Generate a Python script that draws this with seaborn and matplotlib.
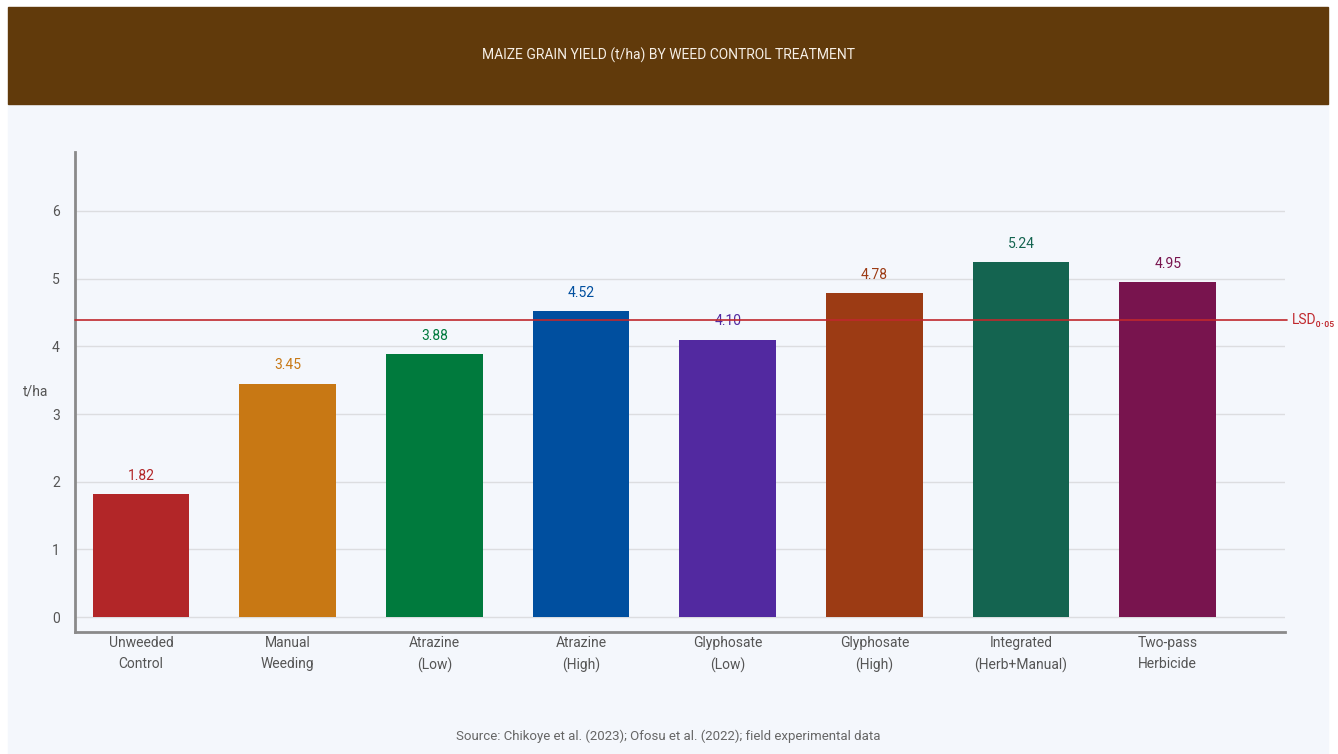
import matplotlib
matplotlib.use("Agg")
import matplotlib.pyplot as plt
import seaborn as sns
import pandas as pd

categories = ["Unweeded\nControl", "Manual\nWeeding", "Atrazine\n(Low)", "Atrazine\n(High)",
              "Glyphosate\n(Low)", "Glyphosate\n(High)", "Integrated\n(Herb+Manual)", "Two-pass\nHerbicide"]
yields = [1.82, 3.45, 3.88, 4.52, 4.10, 4.78, 5.24, 4.95]
value_labels = ["1.82", "3.45", "3.88", "4.52", "4.10", "4.78", "5.24", "4.95"]
colors = ["#B22628", "#C87814", "#007A3D", "#004F9F", "#5229A0", "#9C3B14", "#146450", "#78144E"]
lsd_value = 4.39
lsd_label = "LSD₀.₀₅"
y_ticks = [0, 1, 2, 3, 4, 5, 6]
title = "MAIZE GRAIN YIELD (t/ha) BY WEED CONTROL TREATMENT"
source = "Source: Chikoye et al. (2023); Ofosu et al. (2022); field experimental data"

sns.set_theme(style="white")
plt.rcParams['font.family'] = ['Roboto', 'DejaVu Sans']

W, H = 1338, 754
fig = plt.figure(figsize=(W / 100, H / 100), dpi=100)
fig.patch.set_facecolor("white")

# panel background
fig.add_artist(plt.Rectangle((8 / W, 0), (1328 - 8) / W, (754 - 104) / H,
                             transform=fig.transFigure, color="#F4F7FC", zorder=-2))
# header band
fig.add_artist(plt.Rectangle((8 / W, (754 - 104) / H), (1328 - 8) / W, (104 - 7) / H,
                             transform=fig.transFigure, color="#613A0B", zorder=-1))
fig.text(668 / W, 1 - 55 / H, title, color="#F6EFE6", fontsize=10, ha="center", va="center")

ax_left, ax_right = 75, 1285
ax_top, ax_bottom = 152, 632
ax = fig.add_axes([ax_left / W, 1 - ax_bottom / H, (ax_right - ax_left) / W, (ax_bottom - ax_top) / H])
ax.set_facecolor("none")

df = pd.DataFrame({"cat": categories, "y": yields})
sns.barplot(data=df, x="cat", y="y", hue="cat", palette=colors, legend=False,
            width=0.66, ax=ax, saturation=1, zorder=3, linewidth=0, edgecolor="none")

ax.set_xlim(-0.45, 7.80)
ax.set_ylim(-0.22, 6.87)
ax.set_yticks(y_ticks)
ax.yaxis.grid(True, color="#DCDDE0", linewidth=1, zorder=0)
ax.set_axisbelow(True)
for s in ["top", "right"]:
    ax.spines[s].set_visible(False)
for s in ["left", "bottom"]:
    ax.spines[s].set_color("#8A8A8A")
    ax.spines[s].set_linewidth(2)
ax.tick_params(axis="y", length=5, color="#DCDDE0", labelsize=10, labelcolor="#555555", pad=6)
ax.tick_params(axis="x", length=0, labelsize=10, labelcolor="#555555", pad=3)
for t in ax.get_xticklabels():
    t.set_linespacing(1.6)
ax.set_xlabel("")
ax.set_ylabel("t/ha", rotation=0, fontsize=10, color="#555555", labelpad=12, va="center")

for i, (v, lab, c) in enumerate(zip(yields, value_labels, colors)):
    ax.annotate(lab, (i, v), xytext=(0, 8), textcoords="offset points",
                ha="center", va="bottom", color=c, fontsize=10)

ax.axhline(lsd_value, xmin=0, xmax=1.0015, color="#C0282D", linewidth=1.2, zorder=4, clip_on=False)
ax.annotate(lsd_label, (1, lsd_value), xycoords=("axes fraction", "data"), xytext=(5, 0),
            textcoords="offset points", ha="left", va="center", color="#C0282D", fontsize=10,
            annotation_clip=False)

fig.text(668 / W, 1 - 736 / H, source, color="#666666", fontsize=9.5, ha="center", va="center")

fig.savefig("out.png", dpi=100)
